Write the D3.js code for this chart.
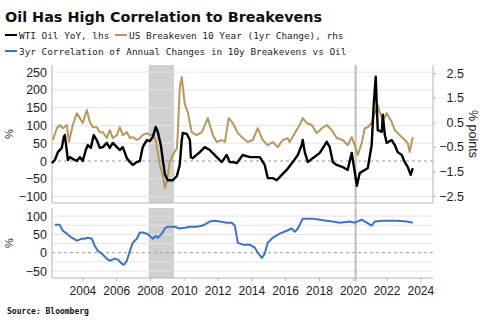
<!DOCTYPE html>
<html><head><meta charset="utf-8">
<script src="https://cdn.jsdelivr.net/npm/d3@7/dist/d3.min.js"></script>
<style>
html,body{margin:0;padding:0;background:#fff;}
svg{display:block;}
</style></head>
<body><svg id="c" width="485" height="324"></svg>
<script>
// ---- DATA (decimal years) ----
const oilDates = [2002.19,2002.37,2002.55,2002.78,2002.90,2002.96,2003.14,2003.26,2003.43,2003.67,2003.85,2004.02,2004.20,2004.32,2004.50,2004.67,2004.85,2005.03,2005.21,2005.44,2005.62,2005.80,2006.04,2006.21,2006.39,2006.63,2006.81,2006.98,2007.22,2007.40,2007.57,2007.81,2007.99,2008.17,2008.34,2008.46,2008.64,2008.76,2008.88,2009.05,2009.35,2009.59,2009.76,2009.88,2009.94,2010.18,2010.36,2010.42,2010.53,2010.95,2011.24,2011.54,2011.72,2011.95,2012.25,2012.54,2012.72,2012.90,2013.14,2013.49,2013.91,2014.32,2014.50,2014.79,2014.97,2015.27,2015.50,2015.80,2016.09,2016.45,2016.75,2016.98,2017.04,2017.16,2017.34,2017.63,2018.05,2018.46,2018.64,2018.82,2019.05,2019.41,2019.70,2019.94,2020.12,2020.24,2020.41,2020.71,2020.89,2021.12,2021.24,2021.36,2021.42,2021.48,2021.72,2021.78,2021.90,2022.01,2022.31,2022.49,2022.66,2022.90,2023.08,2023.26,2023.43,2023.55];
const oilVals  = [-6,3,25,37,68,73,3,11,6,0,11,0,31,45,37,73,59,37,39,51,37,51,39,31,39,8,-3,-11,-3,0,39,59,56,68,96,82,45,3,-37,-54,-54,-42,-11,59,79,76,59,11,8,25,39,31,22,11,-3,17,-3,-3,-6,17,11,11,11,-11,-48,-48,-54,-39,-25,-3,17,45,59,25,-3,8,23,54,39,-3,-11,-17,-25,23,-31,-70,-34,-25,-20,45,158,237,158,87,82,130,73,51,59,45,25,17,-3,-17,-39,-20];

const beDates = [2002.25,2002.49,2002.66,2002.84,2003.08,2003.20,2003.43,2003.67,2003.85,2004.02,2004.26,2004.44,2004.62,2004.85,2005.03,2005.21,2005.44,2005.62,2005.80,2006.04,2006.21,2006.39,2006.63,2006.81,2006.98,2007.22,2007.40,2007.57,2007.81,2007.99,2008.17,2008.34,2008.58,2008.76,2008.88,2008.99,2009.17,2009.35,2009.59,2009.65,2009.76,2009.88,2010.06,2010.24,2010.47,2010.77,2011.07,2011.42,2011.72,2011.95,2012.25,2012.43,2012.66,2012.90,2013.20,2013.49,2013.79,2014.08,2014.38,2014.67,2014.97,2015.27,2015.56,2015.86,2016.15,2016.27,2016.57,2016.86,2017.04,2017.28,2017.57,2017.87,2018.17,2018.46,2018.76,2019.05,2019.41,2019.70,2019.94,2020.12,2020.30,2020.53,2020.71,2020.89,2021.12,2021.30,2021.48,2021.60,2021.78,2022.01,2022.31,2022.49,2022.78,2023.08,2023.26,2023.37,2023.55];
const beVals  = [-0.22,0.26,0.39,0.26,0.39,-0.30,0.39,0.87,0.67,0.47,1.00,0.51,0.30,0.30,0.10,0.10,-0.14,0.18,-0.14,-0.02,0.30,-0.02,0.10,-0.14,-0.10,-0.22,-0.14,-0.02,0.06,-0.02,-0.02,-0.22,-1.24,-1.65,-2.17,-1.93,-1.12,-0.83,-0.55,0.10,1.89,2.34,1.24,0.91,0.10,-0.02,0.10,0.67,-0.02,-0.30,-0.22,-0.30,0.67,0.47,0.06,-0.14,-0.30,-0.22,0.26,-0.22,-0.43,-0.30,-0.51,-0.22,-0.14,-0.30,0.06,0.39,0.67,0.47,0.39,0.06,0.26,0.39,0.18,-0.14,-0.22,-0.43,-0.10,-0.43,-0.83,-0.35,0.26,0.30,0.47,0.87,1.20,0.91,0.59,0.87,0.51,0.18,-0.02,-0.22,-0.35,-0.71,-0.10];

const corDates = [2002.37,2002.66,2002.84,2003.08,2003.37,2003.67,2003.97,2004.14,2004.32,2004.56,2004.73,2004.91,2005.15,2005.44,2005.62,2005.92,2006.10,2006.33,2006.45,2006.63,2006.81,2006.98,2007.22,2007.40,2007.57,2007.81,2007.99,2008.17,2008.34,2008.46,2008.70,2008.88,2009.05,2009.47,2009.76,2010.06,2010.36,2010.77,2011.12,2011.54,2011.83,2012.13,2012.54,2012.84,2013.02,2013.20,2013.49,2013.91,2014.20,2014.38,2014.62,2014.79,2014.97,2015.27,2015.68,2016.09,2016.39,2016.57,2016.75,2017.04,2017.28,2017.63,2018.05,2018.46,2018.82,2019.23,2019.82,2020.12,2020.53,2020.83,2021.12,2021.30,2021.78,2022.61,2023.20,2023.55];
const corVals  = [76,76,60,52,41,33,38,38,41,38,19,5,-3,-16,-22,-16,-19,-30,-33,-22,5,27,38,55,55,52,46,38,46,41,52,66,71,71,66,68,71,71,74,85,87,85,82,82,74,27,22,22,14,0,-14,-3,27,41,52,60,66,57,66,93,93,93,90,87,85,82,85,82,90,82,74,85,87,87,85,82];

const yearTicks = [2004,2006,2008,2010,2012,2014,2016,2018,2020,2022,2024];
const topLeftTicks = [-100,-50,0,50,100,150,200,250];
const topRightTicks = [-2.5,-1.5,-0.5,0.5,1.5,2.5];
const bottomTicks = [-50,0,50,100];
const bottomGrid = [-50,-25,25,50,75,100];
const recession = [2007.92, 2009.42];
const covidLine = 2020.17;

const title = "Oil Has High Correlation to Breakevens";
const legendItems = [
  {label:"WTI Oil YoY, lhs", color:"#000000"},
  {label:"US Breakeven 10 Year (1yr Change), rhs", color:"#b8975c"},
  {label:"3yr Correlation of Annual Changes in 10y Breakevens vs Oil", color:"#3e73c4"}
];

// ---- LAYOUT ----
const svg = d3.select("#c");
const X0 = 52, X1 = 433;
const T0 = 65, T1 = 203, B0 = 208, B1 = 278;
const x = d3.scaleLinear().domain([2002.2, 2024.75]).range([X0, X1]);
const yL = d3.scaleLinear().domain([-118, 270]).range([T1, T0]);
const yR = d3.scaleLinear().domain([-2.78, 2.83]).range([T1, T0]);
const yB = d3.scaleLinear().domain([-69, 122]).range([B1, B0]);

const tickFont = "'Liberation Sans', Arial, sans-serif";
const monoFont = "'DejaVu Sans Mono', monospace";
const gridCol = "#e3e3e3";
const axisCol = "#b5b5b5";

// title
svg.append("text").attr("x",5).attr("y",22)
  .style("font-family","'DejaVu Sans', sans-serif").style("font-weight","bold")
  .style("font-size","14.4px").attr("fill","#111").text(title);

// legend
function legendItem(xx, yy, item){
  svg.append("line").attr("x1",xx).attr("x2",xx+12).attr("y1",yy-3.5).attr("y2",yy-3.5)
    .attr("stroke",item.color).attr("stroke-width",2);
  svg.append("text").attr("x",xx+14).attr("y",yy)
    .style("font-family",monoFont).style("font-size","9.4px").attr("fill","#222").text(item.label);
}
legendItem(5, 38.5, legendItems[0]);
legendItem(115, 38.5, legendItems[1]);
legendItem(5, 54.5, legendItems[2]);

// recession shading
[[T0,T1],[B0,B1]].forEach(([a,b])=>{
  svg.append("rect").attr("x",x(recession[0])).attr("width",x(recession[1])-x(recession[0]))
    .attr("y",a).attr("height",b-a).attr("fill","#d0d0d0");
});

// grids top
svg.append("g").selectAll("line").data(topLeftTicks.filter(d=>d!==0)).join("line")
  .attr("x1",X0).attr("x2",X1).attr("y1",d=>yL(d)).attr("y2",d=>yL(d))
  .attr("stroke",gridCol).attr("stroke-width",1);
svg.append("line").attr("x1",X0).attr("x2",X1).attr("y1",yL(0)).attr("y2",yL(0))
  .attr("stroke","#9a9a9a").attr("stroke-dasharray","3,3").attr("stroke-width",1);
// grids bottom
svg.append("g").selectAll("line").data(bottomGrid).join("line")
  .attr("x1",X0).attr("x2",X1).attr("y1",d=>yB(d)).attr("y2",d=>yB(d))
  .attr("stroke",gridCol).attr("stroke-width",1);
svg.append("line").attr("x1",X0).attr("x2",X1).attr("y1",yB(0)).attr("y2",yB(0))
  .attr("stroke","#9a9a9a").attr("stroke-dasharray","3,3").attr("stroke-width",1);

// covid line
[[T0,T1+3],[B0-1,B1+3]].forEach(([a,b])=>{
  svg.append("line").attr("x1",x(covidLine)).attr("x2",x(covidLine)).attr("y1",a).attr("y2",b)
    .attr("stroke","#bdbdbd").attr("stroke-width",2);
});

// axes frames
svg.append("line").attr("x1",X0).attr("x2",X0).attr("y1",T0).attr("y2",T1).attr("stroke",axisCol);
svg.append("line").attr("x1",X0).attr("x2",X1).attr("y1",T1).attr("y2",T1).attr("stroke",axisCol);
svg.append("line").attr("x1",X1).attr("x2",X1).attr("y1",T0).attr("y2",T1).attr("stroke",axisCol);
svg.append("line").attr("x1",X0).attr("x2",X0).attr("y1",B0).attr("y2",B1).attr("stroke",axisCol);
svg.append("line").attr("x1",X0).attr("x2",X1).attr("y1",B1).attr("y2",B1).attr("stroke",axisCol);

// axes via d3
function styleAxis(g){
  g.select(".domain").remove();
  g.selectAll(".tick line").attr("stroke",axisCol);
  g.selectAll("text").style("font-family",tickFont).style("font-size","12.5px").attr("fill","#222");
}
svg.append("g").attr("transform",`translate(${X0},0)`)
  .call(d3.axisLeft(yL).tickValues(topLeftTicks).tickSize(0).tickPadding(5).tickFormat(d3.format("d")))
  .call(styleAxis);
svg.append("g").attr("transform",`translate(${X1},0)`)
  .call(d3.axisRight(yR).tickValues(topRightTicks).tickSize(3).tickPadding(6).tickFormat(d3.format(".1f")))
  .call(styleAxis)
  .call(g=>g.selectAll("text").attr("text-anchor","end").attr("x",31));
svg.append("g").attr("transform",`translate(${X0},0)`)
  .call(d3.axisLeft(yB).tickValues(bottomTicks).tickSize(0).tickPadding(5).tickFormat(d3.format("d")))
  .call(styleAxis);
svg.append("g").attr("transform",`translate(0,${B1})`)
  .call(d3.axisBottom(x).tickValues(yearTicks).tickSize(3).tickPadding(5).tickFormat(d3.format("d")))
  .call(styleAxis)
  .call(g=>g.selectAll("text").style("font-size","12px"));

// axis titles
svg.append("text").attr("transform",`translate(13,${(T0+T1)/2}) rotate(-90)`).attr("text-anchor","middle")
  .style("font-family",tickFont).style("font-size","11px").attr("fill","#222").text("%");
svg.append("text").attr("transform",`translate(13,${(B0+B1)/2}) rotate(-90)`).attr("text-anchor","middle")
  .style("font-family",tickFont).style("font-size","11px").attr("fill","#222").text("%");
svg.append("text").attr("transform",`translate(469,134) rotate(90)`).attr("text-anchor","middle")
  .style("font-family",tickFont).style("font-size","12.5px").attr("fill","#222").text("% points");

// lines
const zip = (ds,vs)=>ds.map((d,i)=>[d,vs[i]]);
const lineL = d3.line().x(d=>x(d[0])).y(d=>yL(d[1]));
const lineR = d3.line().x(d=>x(d[0])).y(d=>yR(d[1]));
const lineB = d3.line().x(d=>x(d[0])).y(d=>yB(d[1]));
svg.append("path").datum(zip(beDates,beVals)).attr("d",lineR).attr("fill","none")
  .attr("stroke",legendItems[1].color).attr("stroke-width",2).attr("stroke-linejoin","round");
svg.append("path").datum(zip(oilDates,oilVals)).attr("d",lineL).attr("fill","none")
  .attr("stroke",legendItems[0].color).attr("stroke-width",2.4).attr("stroke-linejoin","round");
svg.append("path").datum(zip(corDates,corVals)).attr("d",lineB).attr("fill","none")
  .attr("stroke",legendItems[2].color).attr("stroke-width",2).attr("stroke-linejoin","round");

// source
svg.append("text").attr("x",7).attr("y",314)
  .style("font-family",monoFont).style("font-weight","bold").style("font-size","8px")
  .attr("fill","#111").text("Source: Bloomberg");
</script></body></html>
